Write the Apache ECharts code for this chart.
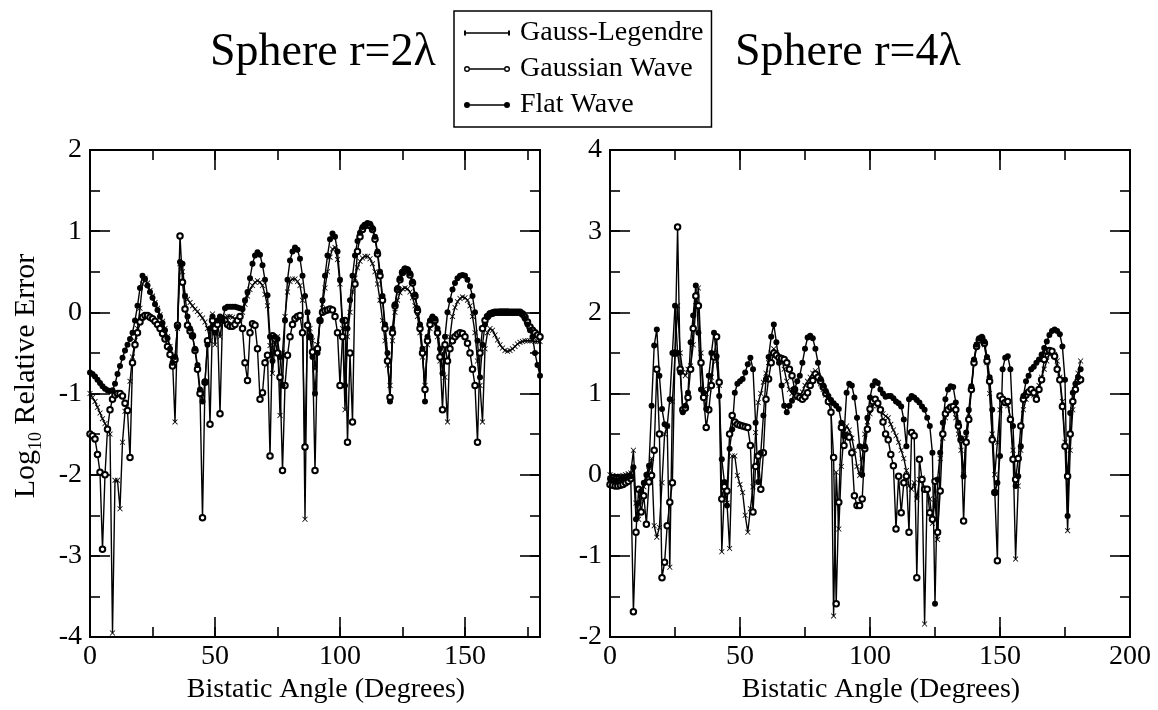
<!DOCTYPE html>
<html>
<head>
<meta charset="utf-8">
<script src="https://cdn.jsdelivr.net/npm/echarts/dist/echarts.min.js"></script>
<style>
html, body { margin: 0; padding: 0; background: #fff; }
#chart { width: 1158px; height: 710px; }
</style>
</head>
<body>
<div id="chart"></div>
<script>
// bistatic angle grid, 1 degree steps
const anglesLeft = []
for (let a = 0; a <= 180; a++) anglesLeft.push(a)
const anglesRight = []
for (let a = 0; a <= 181; a++) anglesRight.push(a)

// Sphere r=2 lambda, log10 relative error
const glLeft = [
    -1.00, -1.05, -1.10, -1.17, -1.24, -1.31, -1.37, -1.44, -1.50, -3.95,
    -2.07, -2.07, -2.42, -1.60, -1.22, -1.21, -0.85, -0.55, -0.35, -0.20,
    0.05, 0.35, 0.42, 0.36, 0.27, 0.20, 0.12, 0.05, -0.03, -0.11,
    -0.20, -0.30, -0.42, -0.58, -1.35, -0.20, 0.60, 0.50, 0.20, 0.16,
    0.12, 0.08, 0.04, 0.01, -0.03, -0.07, -0.12, -0.20, -0.35, -0.02,
    -0.40, -0.15, -0.30, -0.10, -0.08, -0.05, -0.05, -0.06, -0.08, -0.10,
    -0.08, 0.00, 0.10, 0.20, 0.28, 0.33, 0.37, 0.39, 0.37, 0.33,
    0.22, 0.08, -0.41, -0.75, -0.40, -0.30, -1.27, -0.50, -0.05, 0.25,
    0.38, 0.41, 0.41, 0.38, 0.33, 0.15, -2.55, 0.00, -0.20, -0.35,
    -0.70, -0.40, -0.10, 0.10, 0.30, 0.50, 0.68, 0.78, 0.80, 0.65,
    0.35, -0.20, -1.20, -0.30, 0.00, 0.25, 0.42, 0.55, 0.63, 0.67,
    0.69, 0.69, 0.66, 0.60, 0.50, 0.35, 0.15, -0.10, -0.35, -0.65,
    -0.90, -0.35, 0.00, 0.15, 0.24, 0.29, 0.30, 0.29, 0.25, 0.18,
    0.08, -0.05, -0.25, -0.55, -0.90, -0.40, -0.20, -0.12, -0.15, -0.30,
    -0.60, -0.50, -0.80, -1.35, -0.30, -0.05, 0.06, 0.13, 0.17, 0.19,
    0.18, 0.15, 0.08, -0.05, -0.25, -0.60, -0.90, -1.35, -0.45, -0.25,
    -0.20, -0.22, -0.28, -0.34, -0.40, -0.44, -0.47, -0.48, -0.47, -0.45,
    -0.42, -0.39, -0.37, -0.36, -0.35, -0.35, -0.35, -0.35, -0.36, -0.36, -0.36,
]
const gwLeft = [
    -1.50, -1.52, -1.56, -1.75, -1.97, -2.92, -2.00, -1.44, -1.20, -1.07,
    -1.02, -1.00, -1.00, -1.03, -1.12, -1.21, -1.79, -0.62, -0.40, -0.25,
    -0.12, -0.06, -0.04, -0.04, -0.06, -0.08, -0.11, -0.15, -0.20, -0.26,
    -0.33, -0.42, -0.52, -0.66, -0.58, -0.16, 0.94, 0.37, 0.04, -0.16,
    -0.23, -0.29, -0.47, -0.70, -1.00, -2.53, -0.86, -0.35, -1.38, -0.10,
    -0.20, -0.15, -1.25, -0.08, -0.10, -0.15, -0.17, -0.17, -0.15, -0.10,
    -0.05, -0.20, -0.62, -0.84, -0.25, -0.14, -0.16, -0.45, -1.07, -0.99,
    -0.62, -0.53, -1.77, -0.29, -0.33, -0.50, -0.80, -1.95, -0.90, -0.53,
    -0.30, -0.15, -0.08, -0.05, -0.04, -0.25, -1.66, -0.16, -0.30, -0.49,
    -1.95, -0.45, -0.10, 0.00, 0.02, 0.03, 0.04, 0.03, -0.05, -0.25,
    -0.90, -0.30, -0.10, -1.60, -0.50, -1.35, 0.35, 0.75, 0.93, 1.02,
    1.07, 1.08, 1.07, 1.02, 0.90, 0.72, 0.45, 0.15, -0.20, -0.60,
    -1.05, -0.25, 0.08, 0.28, 0.40, 0.49, 0.53, 0.52, 0.46, 0.36,
    0.20, 0.02, -0.20, -0.50, -0.95, -0.35, -0.15, -0.08, -0.10, -0.25,
    -0.55, -1.20, -0.40, -0.60, -0.45, -0.35, -0.30, -0.27, -0.25, -0.26,
    -0.30, -0.38, -0.50, -0.70, -0.90, -1.60, -0.50, -0.20, -0.10, -0.05,
    -0.02, -0.01, 0.00, 0.00, 0.00, 0.00, 0.00, 0.00, 0.00, 0.00,
    0.00, 0.00, 0.00, -0.02, -0.06, -0.12, -0.18, -0.22, -0.25, -0.28, -0.30,
]
const fwLeft = [
    -0.74, -0.76, -0.79, -0.83, -0.87, -0.91, -0.94, -0.96, -0.97, -0.96,
    -0.88, -0.76, -0.66, -0.56, -0.47, -0.40, -0.33, -0.25, -0.10, 0.08,
    0.30, 0.45, 0.41, 0.33, 0.25, 0.18, 0.10, 0.03, -0.05, -0.13,
    -0.22, -0.32, -0.45, -0.62, -0.55, -0.18, 0.62, 0.60, 0.20, -0.05,
    -0.20, -0.30, -0.45, -0.65, -0.95, -1.10, -0.85, -0.40, -0.20, -0.05,
    -0.25, -0.10, -0.05, -0.10, 0.05, 0.07, 0.07, 0.07, 0.07, 0.06,
    0.05, 0.04, 0.15, 0.25, 0.42, 0.60, 0.70, 0.74, 0.71, 0.58,
    0.40, 0.21, -0.30, -0.60, -0.30, -0.33, -0.55, -0.90, -0.10, 0.40,
    0.64, 0.75, 0.80, 0.77, 0.66, 0.45, 0.20, 0.00, -0.30, -0.55,
    -1.00, -0.50, -0.10, 0.15, 0.45, 0.70, 0.90, 0.97, 0.93, 0.75,
    0.40, -0.10, -0.90, -0.20, 0.15, 0.45, 0.70, 0.88, 0.98, 1.05,
    1.08, 1.10, 1.09, 1.04, 0.93, 0.75, 0.50, 0.20, -0.15, -0.50,
    -1.10, -0.20, 0.10, 0.30, 0.42, 0.50, 0.54, 0.53, 0.48, 0.38,
    0.22, 0.05, -0.15, -0.45, -1.10, -0.30, -0.10, -0.05, -0.08, -0.20,
    -0.45, -0.75, -0.30, 0.00, 0.15, 0.28, 0.36, 0.42, 0.45, 0.46,
    0.45, 0.40, 0.32, 0.20, 0.00, -0.35, -0.80, -0.40, -0.15, -0.05,
    -0.01, 0.00, 0.00, 0.00, 0.01, 0.01, 0.01, 0.01, 0.00, 0.00,
    0.00, 0.00, 0.00, -0.03, -0.08, -0.15, -0.22, -0.30, -0.50, -0.65, -0.78,
]

// Sphere r=4 lambda
const glRight = [
    0.00, -0.01, -0.02, -0.02, -0.02, -0.01, 0.00, 0.01, 0.02, 0.30,
    -0.35, -0.55, -0.30, -0.15, -0.05, 0.05, 0.20, -0.63, -0.77, -0.65,
    -0.10, 0.50, 0.60, -1.14, 0.90, 1.48, 2.08, 1.50, 1.26, 1.22,
    1.30, 1.34, 1.60, 2.08, 2.30, 1.50, 1.05, 1.00, 1.05, 1.20,
    1.50, 1.40, 1.10, -0.95, -0.20, -0.35, -0.91, 0.23, 0.23, -0.01,
    -0.12, -0.22, -0.50, -0.71, -0.42, -0.15, 0.52, 0.89, 1.00, 1.14,
    1.25, 1.38, 1.50, 1.55, 1.50, 1.45, 1.43, 1.30, 1.15, 1.05,
    1.00, 0.97, 0.95, 0.97, 1.02, 1.10, 1.15, 1.20, 1.25, 1.28,
    1.22, 1.12, 1.05, 0.98, 0.93, 0.88, -1.74, 0.03, -0.67, 0.10,
    0.50, 0.60, 0.55, 0.45, 0.30, 0.10, -0.01, 0.20, 0.50, 0.65,
    0.75, 0.85, 0.88, 0.85, 0.80, 0.75, 0.72, 0.70, 0.62, 0.55,
    0.48, 0.40, 0.30, 0.20, 0.05, -0.14, -0.18, -0.10, -0.30, -0.06,
    -0.04, -1.84, -0.18, -0.30, -0.60, -0.30, -0.80, 0.20, 0.45, 0.70,
    0.80, 0.82, 0.80, 0.70, 0.50, 0.30, 0.00, 0.45, 0.75, 1.05,
    1.40, 1.60, 1.67, 1.66, 1.60, 1.38, 1.00, 0.50, 0.00, 0.40,
    0.80, 0.92, 0.90, 0.85, 0.70, 0.30, -1.04, -0.14, 0.30, 0.80,
    0.93, 1.00, 1.02, 0.98, 0.95, 1.10, 1.20, 1.30, 1.40, 1.48,
    1.50, 1.48, 1.40, 1.20, 0.90, 0.40, -0.69, 0.30, 0.80, 1.10, 1.25, 1.40,
]
const gwRight = [
    -0.12, -0.13, -0.14, -0.14, -0.13, -0.12, -0.10, -0.08, -0.05, -1.69,
    -0.71, -0.18, -0.46, -0.26, -0.61, -0.09, -0.01, 0.30, 1.30, 0.50,
    -1.27, -1.08, -0.63, -0.34, -0.10, 1.50, 3.05, 1.30, 0.80, 0.82,
    0.95, 1.30, 1.80, 2.20, 2.08, 1.38, 0.95, 0.58, 0.80, 1.10,
    1.45, 1.70, 1.14, -0.30, -0.15, -0.20, 0.50, 0.73, 0.65, 0.62,
    0.61, 0.60, 0.59, 0.58, 0.36, -0.46, 0.10, 0.23, -0.18, 0.27,
    0.93, 1.18, 1.38, 1.50, 1.47, 1.44, 1.43, 1.42, 1.38, 1.30,
    1.22, 1.05, 0.97, 0.95, 0.93, 0.96, 1.01, 1.10, 1.16, 1.24,
    1.20, 1.15, 1.08, 1.00, 0.90, 0.77, 0.21, -1.59, -0.34, 0.58,
    0.36, 0.48, 0.46, 0.27, -0.26, -0.38, -0.38, -0.30, 0.32, 0.56,
    0.81, 0.90, 0.93, 0.88, 0.80, 0.65, 0.50, 0.43, 0.25, 0.11,
    -0.67, -0.02, -0.47, -0.10, -0.02, -0.71, 0.52, 0.48, -1.27, 0.19,
    -0.06, -0.18, -0.18, -0.47, -0.55, -0.08, -0.71, -0.20, 0.50, 0.75,
    0.80, 0.83, 0.84, 0.80, 0.60, 0.43, -0.57, 0.40, 0.68, 1.05,
    1.38, 1.58, 1.66, 1.68, 1.62, 1.40, 1.15, 0.43, -0.22, -1.06,
    0.97, 0.93, 0.89, 0.90, 0.68, 0.19, -0.06, 0.20, 0.60, 0.93,
    0.98, 1.02, 1.05, 1.01, 0.93, 1.05, 1.17, 1.42, 1.52, 1.53,
    1.52, 1.46, 1.30, 1.17, 0.84, 0.35, -0.02, 0.50, 0.90, 1.05, 1.15, 1.17,
]
const fwRight = [
    -0.05, -0.06, -0.07, -0.07, -0.06, -0.05, -0.04, -0.03, -0.02, 0.09,
    -0.55, -0.35, -0.20, -0.10, 0.00, 0.11, 0.85, 1.59, 1.79, 1.22,
    0.81, 0.62, 0.60, 0.93, 1.50, 2.08, 1.50, 1.26, 0.77, 0.85,
    1.01, 1.63, 1.96, 2.33, 1.75, 1.05, 1.01, 0.81, 1.22, 1.50,
    1.75, 1.46, 0.97, 0.19, -0.09, -0.38, 0.32, 0.56, 1.01, 1.12,
    1.15, 1.18, 1.26, 1.36, 1.44, 1.30, 0.64, -0.09, 0.27, 0.73,
    1.18, 1.45, 1.70, 1.85, 1.63, 1.38, 1.10, 0.85, 0.77, 0.85,
    0.91, 1.05, 1.15, 1.22, 1.38, 1.55, 1.69, 1.71, 1.68, 1.55,
    1.38, 1.18, 1.10, 1.03, 0.97, 0.92, 0.88, 0.85, 0.81, 0.64,
    0.48, 1.01, 1.12, 1.10, 0.95, 0.70, 0.35, 0.00, 0.35, 0.70,
    0.95, 1.10, 1.15, 1.13, 1.05, 1.00, 0.96, 0.97, 0.97, 0.94,
    0.90, 0.88, 0.84, 0.68, 0.35, 0.93, 0.97, 0.95, 0.92, 0.89,
    0.84, 0.80, 0.70, 0.60, 0.27, -1.59, -0.06, 0.27, 0.64, 0.93,
    1.05, 1.09, 1.08, 0.89, 0.64, 0.45, -0.02, 0.52, 0.80, 1.09,
    1.42, 1.60, 1.68, 1.70, 1.64, 1.45, 1.20, 0.80, -0.22, -0.10,
    0.23, 1.30, 1.44, 1.46, 1.30, 0.60, -0.14, -0.02, 0.35, 0.97,
    1.15, 1.22, 1.30, 1.33, 1.38, 1.42, 1.48, 1.56, 1.64, 1.72,
    1.77, 1.79, 1.77, 1.73, 1.58, 1.17, -0.51, 0.76, 1.01, 1.12, 1.20, 1.30,
]

const seriesNames = ['Gauss-Legendre', 'Gaussian Wave', 'Flat Wave']
const xTickLabels = [0, 50, 100, 150, 200]

const serif = "'Liberation Serif', 'Times New Roman', serif"
const xMark = 'path://M0,1L1,0L5,4L9,0L10,1L6,5L10,9L9,10L5,6L1,10L0,9L4,5Z'

// legend icons: short line with a marker at each end
const iconGL = 'path://M0,3.3L46,3.3L46,4.7L0,4.7Z M0,1.5L2,1.5L2,6.5L0,6.5Z M44,1.5L46,1.5L46,6.5L44,6.5Z'
const iconGW = 'path://M6,3.3L40,3.3L40,4.7L6,4.7Z ' +
    'M0,4A3,3 0 1,1 6,4A3,3 0 1,1 0,4Z M1.4,4A1.6,1.6 0 1,0 4.6,4A1.6,1.6 0 1,0 1.4,4Z ' +
    'M40,4A3,3 0 1,1 46,4A3,3 0 1,1 40,4Z M41.4,4A1.6,1.6 0 1,0 44.6,4A1.6,1.6 0 1,0 41.4,4Z'
const iconFW = 'path://M3,3.3L43,3.3L43,4.7L3,4.7Z M0,4A3,3 0 1,1 6,4A3,3 0 1,1 0,4Z M40,4A3,3 0 1,1 46,4A3,3 0 1,1 40,4Z'

function frameAxis(grid, pos, min, max, step, len, label) {
    return {
        type: 'value',
        gridIndex: grid,
        position: pos,
        min: min,
        max: max,
        interval: step,
        axisLine: { show: true, onZero: false, lineStyle: { color: '#000', width: 2 } },
        axisTick: { show: true, inside: true, length: len, lineStyle: { color: '#000', width: 1.6 } },
        axisLabel: label || { show: false },
        splitLine: { show: false },
    }
}

const xLabel = {
    show: true,
    color: '#000',
    fontFamily: serif,
    fontSize: 28,
    margin: 6,
    formatter: (v) => (xTickLabels.includes(v) ? String(v) : ''),
}
const yLabel = {
    show: true,
    color: '#000',
    fontFamily: serif,
    fontSize: 28,
    margin: 8,
    formatter: (v) => (Number.isInteger(v) ? String(v) : ''),
}

const xAxes = [
    frameAxis(0, 'bottom', 0, 180, 50, 20, xLabel),
    frameAxis(0, 'bottom', 0, 180, 25, 10),
    frameAxis(0, 'top', 0, 180, 50, 20),
    frameAxis(0, 'top', 0, 180, 25, 10),
    frameAxis(1, 'bottom', 0, 200, 50, 20, xLabel),
    frameAxis(1, 'bottom', 0, 200, 25, 10),
    frameAxis(1, 'top', 0, 200, 50, 20),
    frameAxis(1, 'top', 0, 200, 25, 10),
]
for (const i of [0, 4]) {
    xAxes[i].name = 'Bistatic Angle (Degrees)'
    xAxes[i].nameLocation = 'middle'
    xAxes[i].nameGap = 38
    xAxes[i].nameTextStyle = { color: '#000', fontFamily: serif, fontSize: 28, padding: [0, 0, 0, 22] }
}

const yAxes = [
    frameAxis(0, 'left', -4, 2, 1, 20, yLabel),
    frameAxis(0, 'left', -4, 2, 0.5, 10),
    frameAxis(0, 'right', -4, 2, 1, 20),
    frameAxis(0, 'right', -4, 2, 0.5, 10),
    frameAxis(1, 'left', -2, 4, 1, 20, yLabel),
    frameAxis(1, 'left', -2, 4, 0.5, 10),
    frameAxis(1, 'right', -2, 4, 1, 20),
    frameAxis(1, 'right', -2, 4, 0.5, 10),
]

function pts(angles, vals) {
    return vals.map((v, i) => [angles[i], v])
}

function makeSeries(name, data, axisIdx, symbol) {
    return {
        name: name,
        type: 'line',
        xAxisIndex: axisIdx,
        yAxisIndex: axisIdx,
        data: data,
        symbol: symbol,
        symbolSize: symbol === 'circle' ? 6 : 5.5,
        lineStyle: { color: '#000', width: 1.4 },
        itemStyle: { color: '#000', borderWidth: symbol === 'emptyCircle' ? 1.5 : 0 },
        emphasis: { disabled: true },
    }
}

const myChart = echarts.init(document.getElementById('chart'))
const option = {
    animation: false,
    backgroundColor: '#fff',
    title: [
        { text: 'Sphere r=2λ', left: 210, top: 30, padding: 0, textStyle: { fontFamily: serif, fontSize: 46, fontWeight: 'normal', color: '#000' } },
        { text: 'Sphere r=4λ', left: 735, top: 30, padding: 0, textStyle: { fontFamily: serif, fontSize: 46, fontWeight: 'normal', color: '#000' } },
    ],
    legend: {
        orient: 'vertical',
        left: 454,
        top: 11,
        padding: [8, 8, 8, 10],
        itemGap: 8,
        itemWidth: 46,
        itemHeight: 8,
        borderColor: '#000',
        borderWidth: 1.5,
        borderRadius: 0,
        selectedMode: false,
        itemStyle: { color: '#000', borderWidth: 0 },
        textStyle: { fontFamily: serif, fontSize: 28, color: '#000', padding: [0, 0, 0, 5] },
        data: [
            { name: seriesNames[0], icon: iconGL },
            { name: seriesNames[1], icon: iconGW },
            { name: seriesNames[2], icon: iconFW },
        ],
    },
    grid: [
        { left: 90, top: 150, width: 450, height: 487 },
        { left: 610, top: 150, width: 520, height: 487 },
    ],
    xAxis: xAxes,
    yAxis: yAxes,
    graphic: [
        {
            type: 'text',
            x: 26,
            y: 376,
            rotation: Math.PI / 2,
            style: {
                text: 'Log{s|10} Relative Error',
                fontFamily: serif,
                fontSize: 30,
                fill: '#000',
                align: 'center',
                verticalAlign: 'middle',
                textAlign: 'center',
                textVerticalAlign: 'middle',
                lineHeight: 38,
                rich: {
                    s: { fontFamily: serif, fontSize: 18, verticalAlign: 'bottom', lineHeight: 38 },
                },
            },
        },
    ],
    series: [
        makeSeries(seriesNames[0], pts(anglesLeft, glLeft), 0, xMark),
        makeSeries(seriesNames[1], pts(anglesLeft, gwLeft), 0, 'emptyCircle'),
        makeSeries(seriesNames[2], pts(anglesLeft, fwLeft), 0, 'circle'),
        makeSeries(seriesNames[0], pts(anglesRight, glRight), 4, xMark),
        makeSeries(seriesNames[1], pts(anglesRight, gwRight), 4, 'emptyCircle'),
        makeSeries(seriesNames[2], pts(anglesRight, fwRight), 4, 'circle'),
    ],
}
myChart.setOption(option)
</script>
</body>
</html>
